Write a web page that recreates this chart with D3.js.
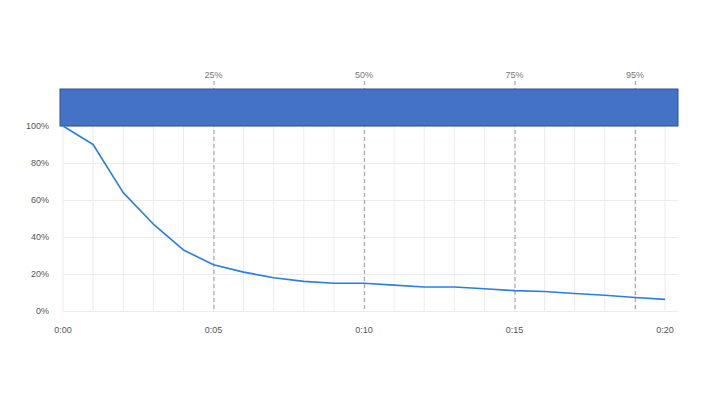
<!DOCTYPE html>
<html lang="en">
<head>
  <meta charset="UTF-8">
  <title>Retention curve</title>
  <script src="https://d3js.org/d3.v7.min.js"></script>
  <style>
    body {
      margin: 0;
      background: #fff;
      font-family: 'Liberation Sans', Arial, sans-serif;
    }
    svg { display: block; }
    .grid line { stroke: #ececec; stroke-width: 1; }
    .tick-label { font-size: 9px; fill: #555; }
    .pct-label { font-size: 9px; fill: #777; text-anchor: middle; }
    .pct-line { stroke: #aaa; stroke-width: 1.2; stroke-dasharray: 4 3; }
  </style>
</head>
<body>

<svg width="720" height="405"></svg>

<script>
// minutes watched (x) and share of viewers still watching (%)
const minutes = d3.range(0, 21);
const retention = [100, 90, 64, 47, 33, 25, 21, 18, 16, 15, 15, 14, 13, 13, 12, 11, 10.5, 9.5, 8.5, 7.3, 6.3];

const xTicks = [0, 5, 10, 15, 20];
const yTicks = [0, 20, 40, 60, 80, 100];

// percentile markers along the top
const pctNames = ["25%", "50%", "75%", "95%"];
const pctMinutes = [5, 10, 15, 19];

// the band across the top: from, to (minutes), and its height range (%)
const bandMinutes = [-0.1, 20.43];
const bandPct = [100, 120];

const svg = d3.select("svg");

const x = d3.scaleLinear().domain([0, 20.43]).range([63, 678]);
const y = d3.scaleLinear().domain([0, 120]).range([311, 89]);

const fmtTime = m => `${Math.floor(m / 60)}:${String(m % 60).padStart(2, "0")}`;

// grid
const grid = svg.append("g").attr("class", "grid");
grid.selectAll("line.h")
  .data(yTicks)
  .join("line")
  .attr("class", "h")
  .attr("x1", x(0)).attr("x2", x.range()[1])
  .attr("y1", d => y(d) + 0.5).attr("y2", d => y(d) + 0.5);

grid.selectAll("line.v")
  .data(minutes)
  .join("line")
  .attr("class", "v")
  .attr("x1", d => x(d)).attr("x2", d => x(d))
  .attr("y1", y(100)).attr("y2", y(0));

// axis labels
svg.append("g").selectAll("text")
  .data(yTicks)
  .join("text")
  .attr("class", "tick-label")
  .attr("x", x(0) - 14)
  .attr("y", d => y(d) + 3)
  .attr("text-anchor", "end")
  .text(d => d + "%");

svg.append("g").selectAll("text")
  .data(xTicks)
  .join("text")
  .attr("class", "tick-label")
  .attr("x", d => x(d))
  .attr("y", 333)
  .attr("text-anchor", "middle")
  .text(fmtTime);

// percentile dashed lines + labels
const pct = svg.append("g").selectAll("g")
  .data(pctNames.map((n, i) => ({ name: n, m: pctMinutes[i] })))
  .join("g");

pct.append("line")
  .attr("class", "pct-line")
  .attr("x1", d => x(d.m) + 0.5).attr("x2", d => x(d.m) + 0.5)
  .attr("y1", 81).attr("y2", y(0));

pct.append("text")
  .attr("class", "pct-label")
  .attr("x", d => x(d.m))
  .attr("y", 78)
  .text(d => d.name);

// band
svg.append("rect")
  .attr("x", x(bandMinutes[0]))
  .attr("y", y(bandPct[1]))
  .attr("width", x(bandMinutes[1]) - x(bandMinutes[0]))
  .attr("height", y(bandPct[0]) - y(bandPct[1]))
  .attr("fill", "#4472c4")
  .attr("stroke", "#2f528f")
  .attr("stroke-width", 1);

// retention line
svg.append("path")
  .datum(minutes.map((m, i) => [m, retention[i]]))
  .attr("fill", "none")
  .attr("stroke", "#2a7de1")
  .attr("stroke-width", 1.6)
  .attr("stroke-linejoin", "round")
  .attr("d", d3.line().x(d => x(d[0])).y(d => y(d[1])));
</script>

</body>
</html>
